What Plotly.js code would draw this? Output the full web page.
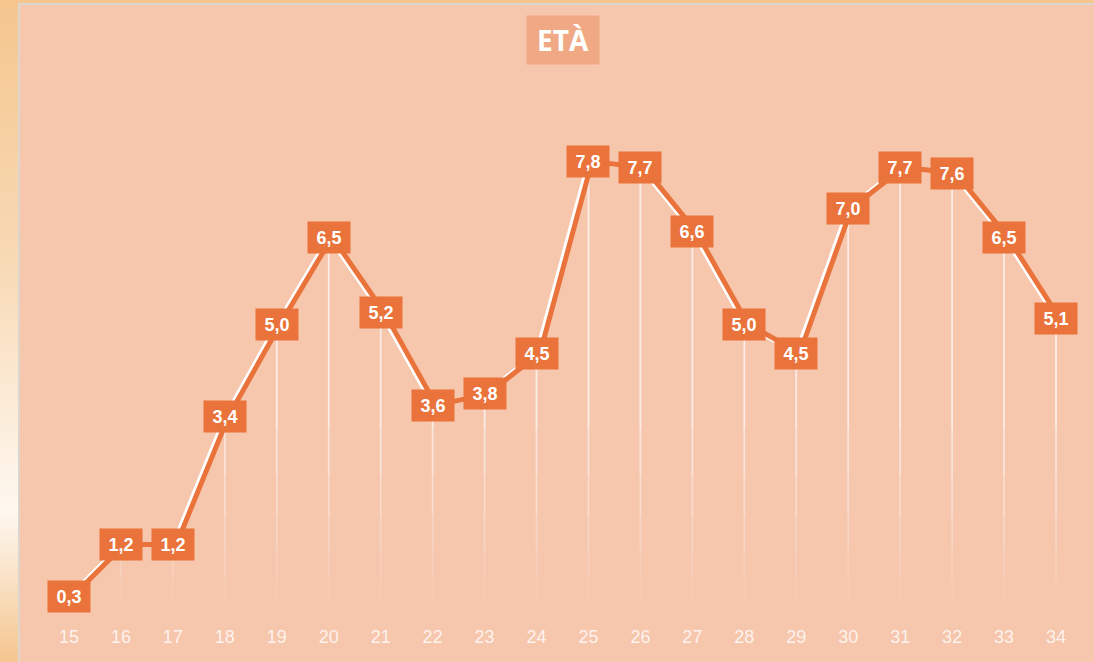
<!DOCTYPE html>
<html>
<head>
<meta charset="utf-8">
<script src="https://cdn.plot.ly/plotly-3.0.1.min.js"></script>
<style>
html,body{margin:0;padding:0;width:1094px;height:662px;overflow:hidden;}
body{background:linear-gradient(to bottom,#F5C68E 0%,#F8DAB6 40%,#FEF8F0 77%,#F8DCBA 90%,#F5C68E 100%);}
#panel{position:absolute;left:18px;top:3px;width:1080px;height:665px;background:#F6C6AD;border-left:2px solid #DCD6CE;border-top:2px solid #DCD6CE;}
#chart{position:absolute;left:0;top:0;width:1094px;height:662px;}
</style>
</head>
<body>
<div id="panel"></div>
<div id="chart"></div>
<script>
const ages = [15,16,17,18,19,20,21,22,23,24,25,26,27,28,29,30,31,32,33,34];
const values = [0.3,1.2,1.2,3.4,5.0,6.5,5.2,3.6,3.8,4.5,7.8,7.7,6.6,5.0,4.5,7.0,7.7,7.6,6.5,5.1];
const tickLabels = ages.map(String);
const chartTitle = 'ETÀ';

const ORANGE = '#E9733A';
const xr = [14.5, 34.5];
const shift = 3.5 / (1039 / 20);

function dropTrace(endVal, alpha) {
  return {
    x: ages, y: values, type: 'scatter', mode: 'markers',
    marker: {size: 0.1, color: 'rgba(0,0,0,0)'},
    error_y: {type: 'data', symmetric: false,
      array: values.map(() => 0),
      arrayminus: values.map(v => Math.max(0, v - endVal)),
      color: 'rgba(255,255,255,' + alpha + ')', thickness: 1.8, width: 0},
    hoverinfo: 'skip', showlegend: false
  };
}

const traces = [
  dropTrace(0.2, 0.08),
  dropTrace(0.6, 0.1),
  dropTrace(1.1, 0.13),
  dropTrace(1.7, 0.17),
  dropTrace(2.4, 0.22),
  dropTrace(3.2, 0.3),
  {x: ages, y: values, xaxis: 'x2', type: 'scatter', mode: 'lines',
   line: {color: ORANGE, width: 5}, hoverinfo: 'skip', showlegend: false},
  {x: ages, y: values, type: 'scatter', mode: 'lines',
   line: {color: '#FFFFFF', width: 4}, hoverinfo: 'skip', showlegend: false}
];

const annotations = ages.map((a, i) => ({
  x: a, y: values[i], xref: 'x', yref: 'y',
  text: '<b>' + values[i].toFixed(1).replace('.', ',') + '</b>',
  showarrow: false, bgcolor: ORANGE, width: 40, height: 29,
  font: {family: 'Liberation Sans, Arial, sans-serif', size: 18, color: '#FFFFFF'},
  xanchor: 'center', yanchor: 'middle', valign: 'middle'
}));
annotations.push({
  x: 0.5005, y: 1 + (64 - 40) / 550, xref: 'paper', yref: 'paper',
  text: '<b>' + chartTitle + '</b>', showarrow: false,
  bgcolor: '#F1A985', width: 70, height: 46,
  font: {family: 'Open Sans, sans-serif', size: 28, color: '#FFFFFF'},
  xanchor: 'center', yanchor: 'middle', valign: 'middle'
});

const layout = {
  width: 1094, height: 662,
  margin: {l: 43, r: 12, t: 64, b: 48, pad: 0},
  paper_bgcolor: 'rgba(0,0,0,0)', plot_bgcolor: 'rgba(0,0,0,0)',
  showlegend: false,
  xaxis: {range: xr, tickmode: 'array', tickvals: ages, ticktext: tickLabels,
    showgrid: false, zeroline: false, showline: false, ticks: '',
    ticklabelstandoff: 10,
    tickfont: {family: 'Liberation Sans, Arial, sans-serif', size: 18, color: 'rgba(255,255,255,0.8)'},
    fixedrange: true},
  xaxis2: {range: [xr[0] - shift, xr[1] - shift], overlaying: 'x', visible: false, fixedrange: true},
  yaxis: {range: [0, 550 / 58], visible: false, fixedrange: true},
  annotations: annotations
};

Plotly.newPlot('chart', traces, layout, {displayModeBar: false, staticPlot: true});
</script>
</body>
</html>
